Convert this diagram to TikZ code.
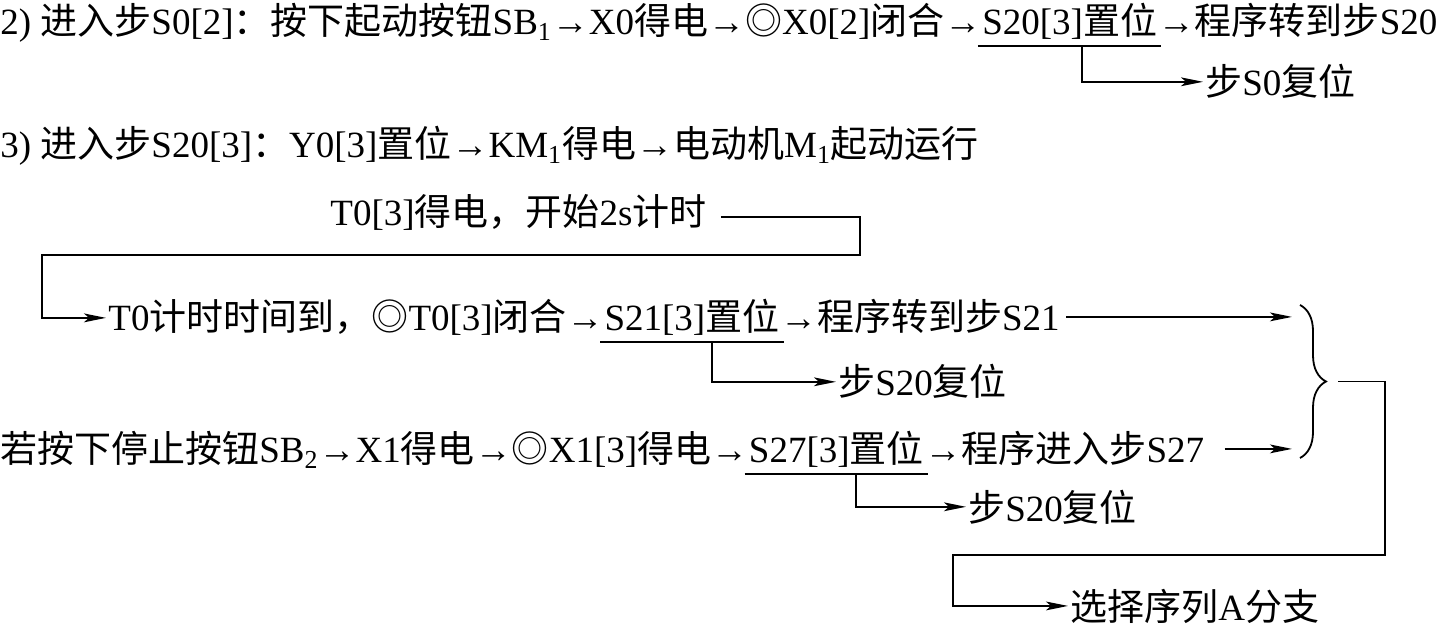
\documentclass[tikz,border=0pt]{standalone}
\usepackage{fontspec}
\setmainfont{Liberation Serif}
\newfontfamily\cjkfont{Noto Sans CJK SC}
\usetikzlibrary{arrows.meta, positioning, decorations.pathreplacing}

% switch to the CJK family for Chinese characters
\XeTeXinterchartokenstate=1
\newXeTeXintercharclass\zhclass
\newcount\zhcnt
\zhcnt="4E00
\loop \XeTeXcharclass\zhcnt=\zhclass \advance\zhcnt by 1 \ifnum\zhcnt<"A000 \repeat
\XeTeXcharclass"FF0C=\zhclass
\XeTeXcharclass"FF1A=\zhclass
\XeTeXcharclass"25CE=\zhclass
\zhcnt=0
\loop
  \XeTeXinterchartoks\zhcnt\zhclass={\cjkfont}
  \XeTeXinterchartoks\zhclass\zhcnt={\rmfamily}
  \advance\zhcnt by 1
\ifnum\zhcnt<\zhclass \repeat
\XeTeXinterchartoks 4095 \zhclass={\cjkfont}
\XeTeXinterchartoks \zhclass 4095={\rmfamily}

\begin{document}
\begin{tikzpicture}[
    x=0.5pt, y=-0.5pt,
    txt/.style={font=\fontsize{18.5}{22}\selectfont, inner sep=0pt},
    wire/.style={line width=0.9pt},
    conn/.style={line width=0.9pt, -{Stealth[length=11pt, width=4.4pt, inset=2.5pt]}, shorten >=1pt},
]
\useasboundingbox (0,0) rectangle (1440,630);

% --- Step S0 ---
\node[txt, anchor=base west] (l1a) at (0,35) {2) 进入步S0[2]：按下起动按钮SB\textsubscript{1}→X0得电→◎X0[2]闭合→};
\node[txt, base right=0pt of l1a] (l1set) {S20[3]置位};
\node[txt, base right=0pt of l1set] (l1b) {→程序转到步S20};
\node[txt, anchor=base west] (s0rst) at (1205,96) {步S0复位};

\draw[wire] ([xshift=-2pt, yshift=-3pt]l1set.south west) -- ([xshift=2pt, yshift=-3pt]l1set.south east);
\draw[conn] ([xshift=6pt, yshift=-3pt]l1set.south) |- (s0rst.west);

% --- Step S20 ---
\node[txt, anchor=base west] (l2) at (0,158) {3) 进入步S20[3]：Y0[3]置位→KM\textsubscript{1}得电→电动机M\textsubscript{1}起动运行};

\node[txt, anchor=base west] (t0on) at (330,226) {T0[3]得电，开始2s计时};
\coordinate (loopR) at (860,255);
\coordinate (loopL) at (42,255);

\node[txt, anchor=base west] (l3a) at (108,331) {T0计时时间到，◎T0[3]闭合→};
\node[txt, base right=0pt of l3a] (l3set) {S21[3]置位};
\node[txt, base right=0pt of l3set] (l3b) {→程序转到步S21};
\node[txt, anchor=base west] (s20rstA) at (838,396) {步S20复位};

\draw[conn] ([xshift=7pt, yshift=-2pt]t0on.east) -| (loopR) -- (loopL) |- (l3a.west);
\draw[wire] ([xshift=-2pt, yshift=-3pt]l3set.south west) -- ([xshift=2pt, yshift=-3pt]l3set.south east);
\draw[conn] ([xshift=10pt, yshift=-3pt]l3set.south) |- (s20rstA.west);

% --- Stop ---
\node[txt, anchor=base west] (l4a) at (0,463) {若按下停止按钮SB\textsubscript{2}→X1得电→◎X1[3]得电→};
\node[txt, base right=0pt of l4a] (l4set) {S27[3]置位};
\node[txt, base right=0pt of l4set] (l4b) {→程序进入步S27};
\node[txt, anchor=base west] (s20rstB) at (968,521) {步S20复位};

\draw[wire] ([xshift=-2pt, yshift=-3pt]l4set.south west) -- ([xshift=2pt, yshift=-3pt]l4set.south east);
\draw[conn] ([xshift=10pt, yshift=-3pt]l4set.south) |- (s20rstB.west);

% --- Branch to sequence A ---
\coordinate (brIn) at (1294,0);
\coordinate (brTop) at (1300,305);
\coordinate (brBot) at (1300,458);
\coordinate (brTip) at (1326,381.5);
\coordinate (bendR) at (1385,555);
\coordinate (bendL) at (953,555);
\node[txt, anchor=base west] (selA) at (1070,620) {选择序列A分支};

\draw[conn] ([xshift=3pt]l3b.east) -- (l3b.east -| brIn);
\draw[conn] ([xshift=10pt]l4b.east) -- (l4b.east -| brIn);
\draw[wire, decorate, decoration={brace, amplitude=13pt}] (brTop) -- (brBot);
\draw[conn] ([xshift=6pt]brTip) -| (bendR) -- (bendL) |- (selA.west);

\end{tikzpicture}
\end{document}
